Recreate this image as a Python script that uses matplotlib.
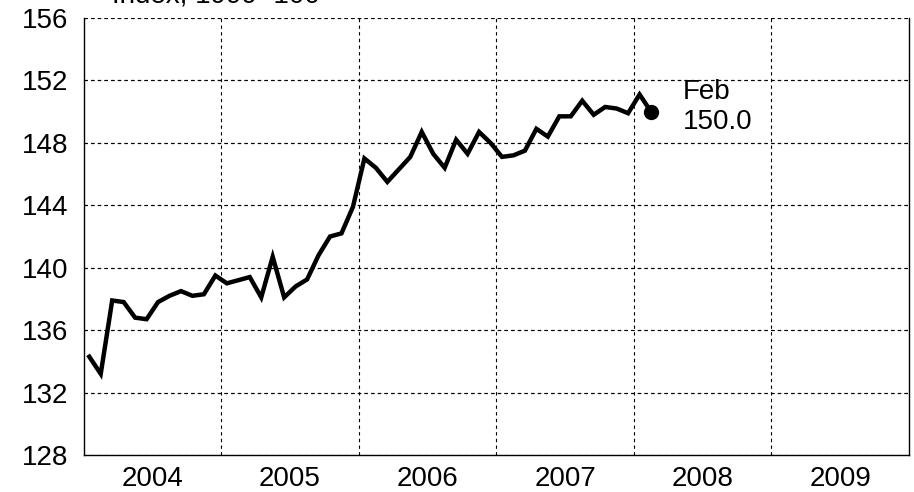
import matplotlib

matplotlib.use("Agg")

import matplotlib.pyplot as plt
import numpy as np

plt.rcParams["font.family"] = ["Liberation Sans", "DejaVu Sans"]

# Monthly index values, Jan 2004 .. Feb 2008
start_year = 2004
values = [
    134.3, 133.2, 137.9, 137.8, 136.8, 136.7, 137.8, 138.2, 138.5, 138.2, 138.3, 139.5,
    139.0, 139.2, 139.4, 138.1, 140.7, 138.1, 138.8, 139.25, 140.8, 142.0, 142.2, 143.9,
    147.0, 146.4, 145.5, 146.3, 147.1, 148.7, 147.3, 146.4, 148.2, 147.3, 148.7, 148.0,
    147.1, 147.2, 147.5, 148.9, 148.4, 149.7, 149.7, 150.7, 149.8, 150.3, 150.2, 149.9,
    151.1, 150.0,
]
years = [2004, 2005, 2006, 2007, 2008, 2009]
y_ticks = [128, 132, 136, 140, 144, 148, 152, 156]
last_label = "Feb"
subtitle = "Index, 1999=100"

x = start_year + (np.arange(len(values)) + 0.5) / 12.0

fig = plt.figure(figsize=(9.14, 4.92), dpi=100)
ax = fig.add_axes([0.0914, 0.0752, 0.9031, 0.8882])

ax.plot(x, values, color="black", linewidth=3.2, solid_joinstyle="miter", zorder=3)
ax.plot(x[-1], values[-1], "o", color="black", markersize=10, zorder=4)
ax.annotate(f"{last_label}\n{values[-1]:.1f}", (x[-1], values[-1]),
            xytext=(23, 3), textcoords="offset points",
            ha="left", va="center", fontsize=20, linespacing=1.2)

ax.set_xlim(years[0], years[-1] + 1)
ax.set_ylim(y_ticks[0], y_ticks[-1])

# gridlines at year boundaries, labels in the middle of each year
ax.set_xticks(years[1:])
ax.set_xticklabels([])
ax.set_xticks([y + 0.5 for y in years], minor=True)
ax.set_xticklabels([str(y) for y in years], minor=True, fontsize=20)
ax.set_yticks(y_ticks)
ax.set_yticklabels([str(v) for v in y_ticks], fontsize=20)
ax.tick_params(axis="both", which="both", length=0)
ax.tick_params(axis="y", pad=11)
ax.tick_params(axis="x", which="minor", pad=8)

ax.grid(True, which="major", color="black", linewidth=0.8, linestyle=(0, (3, 3)))
for y in y_ticks[1:]:
    ax.axhline(y, color="black", linewidth=0.8, linestyle=(0, (3, 3)), zorder=1)

ax.spines["top"].set_visible(False)
for side in ("left", "right", "bottom"):
    ax.spines[side].set_linewidth(1.0)

# unit line at the very top, cut off by the figure edge as in the source
fig.text(0.123, 1 - 2 / 492, subtitle, fontsize=20, ha="left", va="baseline")

fig.savefig("out.png", dpi=100)
plt.close(fig)
